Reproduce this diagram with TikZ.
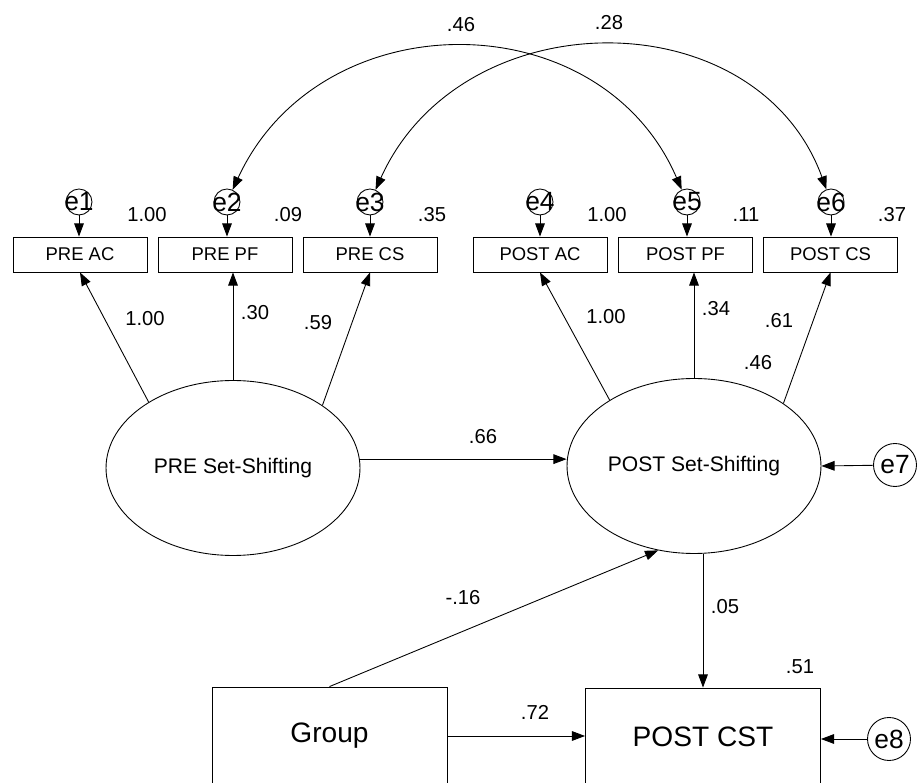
\documentclass[tikz,border=0pt]{standalone}
\usepackage{fontspec}
\setmainfont{Liberation Sans}
\usetikzlibrary{shapes, arrows.meta, positioning}

\begin{document}
\begin{tikzpicture}[x=0.02cm, y=-0.02cm, ->, >={Triangle[length=7.5pt,width=5.5pt]}, line width=0.5pt,
  obs/.style={rectangle, draw, minimum width=2.68cm, minimum height=0.7cm, inner sep=0pt, font=\fontsize{10.5}{12}\selectfont},
  lat/.style={ellipse, draw, minimum width=5.08cm, minimum height=3.5cm, inner sep=0pt, font=\fontsize{12}{14}\selectfont},
  big/.style={rectangle, draw, minimum width=4.7cm, minimum height=1.96cm, inner sep=0pt, font=\fontsize{16}{18}\selectfont},
  err/.style={circle, draw, minimum size=0.52cm, inner sep=0pt},
  errtxt/.style={font=\fontsize{15}{15}\selectfont, inner sep=0pt},
  errbig/.style={circle, draw, minimum size=0.86cm, inner sep=0pt, font=\fontsize{15}{15}\selectfont},
  num/.style={font=\fontsize{11.5}{13}\selectfont, inner sep=0pt}]

\path[-, use as bounding box] (0,0) rectangle (917,783);
\clip (0,0) rectangle (917,783);

% indicators
\node [obs] (preac) at (80,254.5) {PRE AC};
\node [obs] (prepf) at (225,254.5) {PRE PF};
\node [obs] (precs) at (370,254.5) {PRE CS};
\node [obs] (postac) at (540,254.5) {POST AC};
\node [obs] (postpf) at (685.5,254.5) {POST PF};
\node [obs] (postcs) at (830.5,254.5) {POST CS};

% errors
\node [err, label={[errtxt]center:e1}] (e1) at (79,202) {};
\node [err, label={[errtxt]center:e2}] (e2) at (227,202) {};
\node [err, label={[errtxt]center:e3}] (e3) at (370,202) {};
\node [err, label={[errtxt]center:e4}] (e4) at (540,202) {};
\node [err, label={[errtxt]center:e5}] (e5) at (687,202) {};
\node [err, label={[errtxt]center:e6}] (e6) at (831,202) {};

% latents and observed
\node [lat] (pre) at (233,468) {PRE Set-Shifting};
\node [lat] (post) at (694,466) {POST Set-Shifting};
\node [big] (group) at (329.5,736) {Group};
\node [big] (cst) at (703,737) {POST CST};
\node [errbig] (e7) at (895,465) {e7};
\node [errbig] (e8) at (889,739) {e8};

\path (e1) edge (e1 |- preac.north);
\path (e2) edge (e2 |- prepf.north);
\path (e3) edge (e3 |- precs.north);
\path (e4) edge (e4 |- postac.north);
\path (e5) edge (e5 |- postpf.north);
\path (e6) edge (e6 |- postcs.north);

\path (pre.142) edge (preac.south);
\path (pre.north) edge (pre.north |- prepf.south);
\path (pre.35) edge (precs.south);
\path (post.142) edge (postac.south);
\path (post.north) edge (post.north |- postpf.south);
\path (post.35) edge (postcs.south);

\path (pre.4) edge (pre.4 -| post.west);
\path (e7) edge (post.east);
\path (group.north) edge (post.-113);
\path (post.south -| cst.north) edge (cst.north);
\path (group.east) edge (group.east -| cst.west);
\path (e8) edge (e8 -| cst.east);

\draw [<->] (e2) .. controls (320,0) and (600,0) .. (e5);
\draw [<->] (e3) .. controls (462,-2) and (757,-2) .. (e6);

% estimates
\node [num] (c25) at (461,25) {.46};
\node [num] (c36) at (609,23) {.28};
\node [num] (v1) at (147,215) {1.00};
\node [num] (v2) at (288,215) {.09};
\node [num] (v3) at (432,215) {.35};
\node [num] (v4) at (607,215) {1.00};
\node [num] (v5) at (746,215) {.11};
\node [num] (v6) at (892,215) {.37};
\node [num] (l1) at (145,319) {1.00};
\node [num] (l2) at (255,313) {.30};
\node [num] (l3) at (318,323) {.59};
\node [num] (l4) at (606,317) {1.00};
\node [num] (l5) at (716,309) {.34};
\node [num] (l6) at (779,321) {.61};
\node [num] (vpost) at (758,363) {.46};
\node [num] (b66) at (483,437) {.66};
\node [num] (b16) at (463,598) {-.16};
\node [num] (b05) at (725,607) {.05};
\node [num] (vcst) at (800,667) {.51};
\node [num] (b72) at (535,712) {.72};

\end{tikzpicture}
\end{document}
